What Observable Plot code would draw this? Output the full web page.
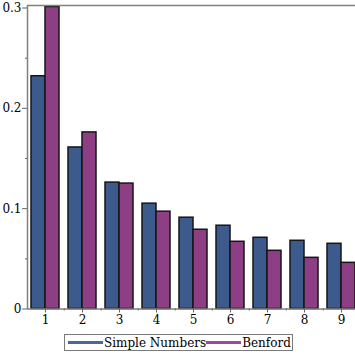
<!DOCTYPE html>
<html>
<head>
<meta charset="utf-8">
<script src="https://cdn.jsdelivr.net/npm/d3@7"></script>
<script src="https://cdn.jsdelivr.net/npm/@observablehq/plot@0.6"></script>
<style>
  html, body { margin: 0; padding: 0; background: #fff; overflow: hidden; width: 355px; height: 355px; }
  #chart { position: relative; width: 355px; height: 355px; overflow: hidden; }
  #chart svg { position: absolute; left: 0; top: 0; max-width: none !important; }
  .legend { position: absolute; left: 64px; top: 334px; height: 15px; border: 1.5px solid #7a7a7a; display: flex; align-items: center; font-family: "DejaVu Serif", serif; font-size: 12px; color: #000; padding: 0 1px 0 3px; white-space: nowrap; }
  .legend .sw { display: inline-block; width: 35px; height: 3px; margin-right: 1px; }
</style>
</head>
<body>
<div id="chart"></div>
<script>
const digits = ["1", "2", "3", "4", "5", "6", "7", "8", "9"];
const simpleNumbers = [0.232, 0.161, 0.126, 0.105, 0.091, 0.083, 0.071, 0.068, 0.065];
const benford = [0.301, 0.176, 0.125, 0.097, 0.079, 0.067, 0.058, 0.051, 0.046];
const seriesNames = ["Simple Numbers", "Benford"];
const yTicks = [0, 0.1, 0.2, 0.3];
const yMinorTicks = [0.05, 0.15, 0.25];

const colors = { fillSimple: "#3c5a8c", fillBenford: "#8e3e84", lineSimple: "#4a67a0", lineBenford: "#a2479a" };

const simpleData = digits.map((d, i) => ({ digit: d, value: simpleNumbers[i] }));
const benfordData = digits.map((d, i) => ({ digit: d, value: benford[i] }));

const font = "DejaVu Serif";
const plot = Plot.plot({
  width: 372,
  height: 330,
  marginLeft: 27,
  marginRight: 0,
  marginTop: 5,
  marginBottom: 21.5,
  style: { fontFamily: font, fontSize: "12px", color: "#000", background: "transparent", maxWidth: "none" },
  x: { domain: digits, range: [24, 361.5], paddingInner: 0.25, paddingOuter: 0.125, axis: null },
  y: { domain: [0, 0.3025], axis: null },
  marks: [
    Plot.barY(simpleData, { x: "digit", y: "value", fill: colors.fillSimple, stroke: "#161616", strokeWidth: 1.5, insetRight: 14 }),
    Plot.barY(benfordData, { x: "digit", y: "value", fill: colors.fillBenford, stroke: "#161616", strokeWidth: 1.5, insetLeft: 14 }),
    Plot.frame({ stroke: "#808080", strokeWidth: 1.5 }),
    Plot.axisY(yTicks, { tickSize: 5, tickPadding: 1, stroke: "#666", tickFormat: d => String(d), fill: "#000", label: null }),
    Plot.axisY(yMinorTicks, { tickSize: 2, stroke: "#666", text: null, label: null }),
    Plot.axisX(digits, { tickSize: 4, tickPadding: 2, stroke: "#666", fill: "#000", label: null }),
    Plot.axisX(digits.slice(0, 8), { tickSize: 2, dx: 18.75, stroke: "#666", text: null, label: null })
  ]
});
const chart = document.getElementById("chart");
chart.appendChild(plot);

const legend = document.createElement("div");
legend.className = "legend";
const lineColors = [colors.lineSimple, colors.lineBenford];
seriesNames.forEach((name, i) => {
  const sw = document.createElement("span");
  sw.className = "sw";
  sw.style.background = lineColors[i];
  const tx = document.createElement("span");
  tx.textContent = name;
  legend.appendChild(sw);
  legend.appendChild(tx);
});
chart.appendChild(legend);
</script>
</body>
</html>
